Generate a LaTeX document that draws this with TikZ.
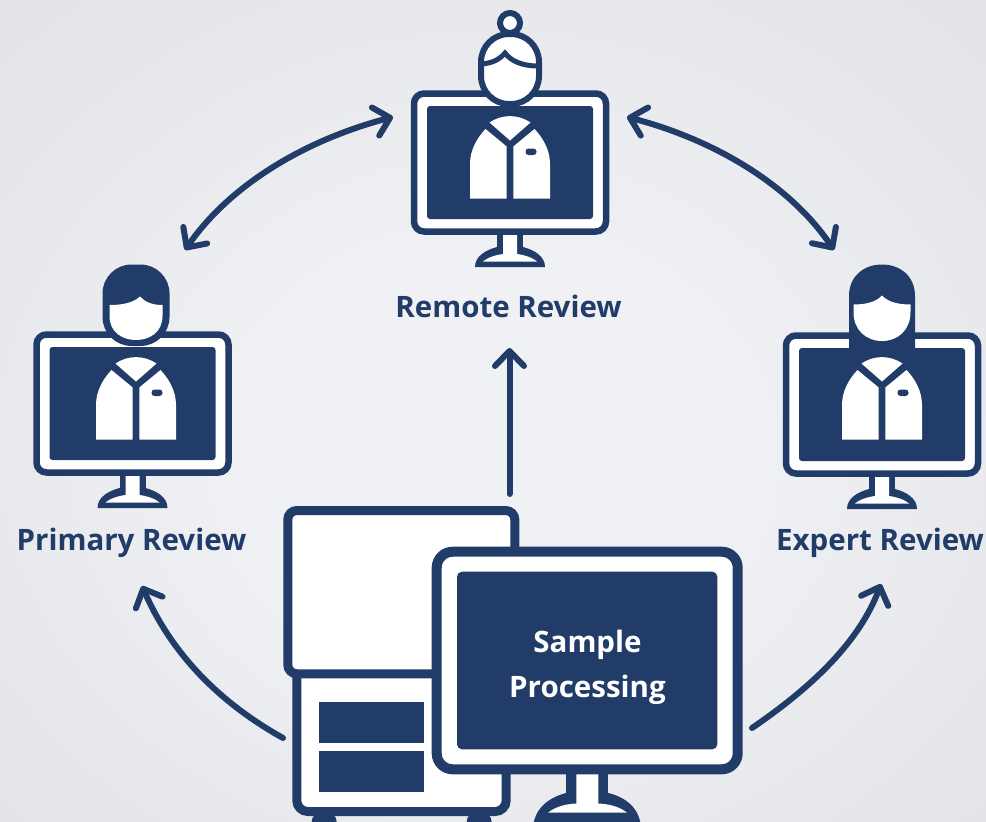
\documentclass[tikz,border=0pt]{standalone}
\usepackage{fontspec}
\setmainfont{Open Sans}
\usetikzlibrary{arrows.meta}

\definecolor{navy}{RGB}{33,60,104}
\definecolor{bglight}{RGB}{240,241,244}
\definecolor{bgdark}{RGB}{224,226,231}
\pgfdeclareradialshading{bgshade}{\pgfpoint{0bp}{-4bp}}{color(0bp)=(bglight); color(12bp)=(bglight); color(38bp)=(bgdark); color(50bp)=(bgdark)}

\tikzset{
    link/.style={draw=navy, line width=6, line cap=round, {Straight Barb[length=15pt, width=29pt, line cap=round, round]}-{Straight Barb[length=15pt, width=29pt, line cap=round, round]}},
    uplink/.style={draw=navy, line width=6, line cap=round, -{Straight Barb[length=15pt, width=29pt, line cap=round, round]}},
    label/.style={text=navy, font=\fontsize{29.5}{35}\selectfont\bfseries, inner sep=0pt},
    frame/.style={draw=navy, fill=white, line width=6.5},
    solid/.style={fill=navy, draw=none}
}

% 小显示器: #1 显示器中心x, #2 显示器顶部y
\newcommand{\smallmonitor}[2]{
    \begin{scope}[shift={(#1,#2)}]
        % 支架
        \fill[navy] (-13,140) rectangle (13,162);
        \fill[navy] (-35,177) .. controls (-35,166) and (-24,160) .. (-13,157) -- (13,157) .. controls (24,160) and (35,166) .. (35,177) -- cycle;
        \fill[white] (-7,140) -- (7,140) -- (7,164) .. controls (15,165) and (23,168) .. (27,171.5) -- (-27,171.5) .. controls (-23,168) and (-15,165) .. (-7,164) -- cycle;
        % 外框和屏幕
        \draw[frame, rounded corners=10] (-96,3.5) rectangle (96,141.5);
        \fill[solid, rounded corners=3] (-83,16) rectangle (83,129);
    \end{scope}
}

% 白大褂: #1 人物中心x, #2 显示器顶部y
\newcommand{\whitecoat}[2]{
    \begin{scope}[shift={(#1,#2)}]
        \fill[white] (-40,108.5) -- (-40,74) .. controls (-40,60) and (-33,48) .. (-24.5,39) -- (-3.3,56.5) -- (-3.3,108.5) -- cycle;
        \fill[white] (40,108.5) -- (40,74) .. controls (40,60) and (33,48) .. (24.5,39) -- (3.3,56.5) -- (3.3,108.5) -- cycle;
        \fill[white] (-20.5,32.5) .. controls (-8,24) and (8,24) .. (20.5,32.5) -- (0,50.5) -- cycle;
        \fill[solid, rounded corners=3] (15.5,58.5) rectangle (26.5,65);
    \end{scope}
}

\begin{document}
\begin{tikzpicture}[x=1pt, y=-1pt]
    \clip (0,0) rectangle (986,822);
    % 绘制背景
    \fill[shading=bgshade] (0,0) rectangle (986,822);

    % 绘制 Remote Review
    \smallmonitor{510}{90}
    \whitecoat{510}{90}
    \draw[frame, line width=6] (510,23) circle (10);
    \draw[frame, line width=6, rounded corners=28] (481,34) rectangle (539,104);
    \draw[navy, line width=5] (482,64) .. controls (492,63) and (499,60) .. (505,53) .. controls (511,61) and (522,66) .. (538,66);
    \node[label] (remote_label) at (508.5,306) {Remote Review};

    % 绘制 Primary Review
    \smallmonitor{132.5}{331}
    \whitecoat{136}{331}
    \fill[solid, rounded corners=29] (102.5,264.5) rectangle (169.5,346);
    \fill[white] (109.5,305) .. controls (122,305) and (133,303) .. (140,296.5) .. controls (145,302) and (152,305) .. (162.5,305) -- (162.5,316) .. controls (162.5,332) and (150,340) .. (136,340) .. controls (122,340) and (109.5,332) .. (109.5,316) -- cycle;
    \node[label] (primary_label) at (131.5,543) {Primary Review};

    % 绘制 Expert Review
    \smallmonitor{882}{332}
    \whitecoat{882}{331}
    \fill[solid] (849,348) -- (849,296) .. controls (849,276) and (864,264.5) .. (882,264.5) .. controls (900,264.5) and (915,276) .. (915,296) -- (915,348) -- cycle;
    \fill[white] (853.5,304.5) .. controls (866,304.5) and (876,302) .. (882,295.5) .. controls (888,302) and (898,304.5) .. (910.5,304.5) -- (910.5,312) .. controls (910.5,330) and (898,341) .. (882,341) .. controls (866,341) and (853.5,330) .. (853.5,312) -- cycle;
    \node[label] (expert_label) at (880,543) {Expert Review};

    % 绘制机柜
    \fill[navy] (311.7,822) .. controls (311.7,816) and (316,812) .. (324,812) .. controls (332,812) and (336.7,816) .. (336.7,822) -- cycle;
    \fill[navy] (466.7,822) .. controls (466.7,816) and (471,812) .. (479,812) .. controls (487,812) and (491.7,816) .. (491.7,822) -- cycle;
    \draw[frame, line width=9, rounded corners=11] (296.8,660) rectangle (506.2,811.5);
    \draw[frame, line width=9, rounded corners=9] (287.8,510.5) rectangle (514.8,673.8);
    \fill[solid] (319,702) rectangle (423.7,743);
    \fill[solid] (319,751.3) rectangle (423.7,792.3);

    % 绘制 Sample Processing 显示器
    \fill[navy] (566.3,770) rectangle (608.3,800);
    \fill[navy] (533,830) .. controls (533,808) and (550,797) .. (566.3,793) -- (608.3,793) .. controls (625,797) and (641,808) .. (641,830) -- cycle;
    \fill[white] (576.3,770) -- (598.3,770) -- (598.3,803.5) .. controls (610,804) and (620,807) .. (627,812.7) -- (548,812.7) .. controls (555,807) and (565,804) .. (576.3,803.5) -- cycle;
    \draw[frame, line width=10, rounded corners=16] (436.7,551.7) rectangle (737.7,769.3);
    \fill[solid, rounded corners=5] (457,571.7) rectangle (717.3,749.3);
    \node[label, text=white, align=center] (sample_label) at (587.5,667) {Sample\\[10pt]Processing};

    % 标记箭头端点
    \coordinate (remote_left) at (393,117);
    \coordinate (remote_right) at (627,117);
    \coordinate (remote_bottom) at (509.5,348);
    \coordinate (primary_top) at (185,250);
    \coordinate (expert_top) at (834,250);
    \coordinate (primary_bottom) at (142,586);
    \coordinate (expert_bottom) at (881,584);
    \coordinate (sample_top) at (509.5,494);
    \coordinate (sample_left) at (283,738);
    \coordinate (sample_right) at (752,728);

    % 绘制箭头
    \draw[link] (primary_top) .. controls (230,185) and (305,140) .. (remote_left);
    \draw[link] (remote_right) .. controls (715,140) and (790,185) .. (expert_top);
    \draw[uplink] (sample_top) -- (remote_bottom);
    \draw[uplink] (sample_left) .. controls (215,700) and (170,650) .. (primary_bottom);
    \draw[uplink] (sample_right) .. controls (815,685) and (860,640) .. (expert_bottom);
\end{tikzpicture}
\end{document}
